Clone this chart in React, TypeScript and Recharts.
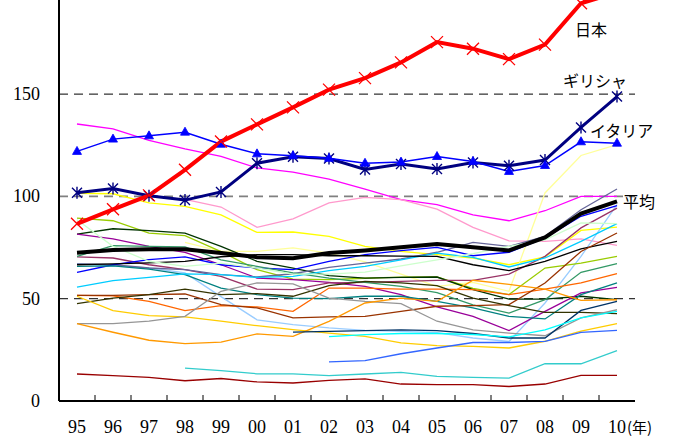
import React from 'react';
import { LineChart, Line, XAxis, YAxis, ReferenceLine, LabelList } from 'recharts';

const years = ['95', '96', '97', '98', '99', '00', '01', '02', '03', '04', '05', '06', '07', '08', '09', '10'];
const yTicks = [0, 50, 100, 150];

const japan = [86.6, 93.7, 100.5, 113, 126.8, 135.2, 143.5, 152.2, 157.8, 165.5, 175.4, 172.2, 167.1, 174.2, 194.4, 199.7];
const greece = [101.8, 103.9, 100.3, 98.2, 102.2, 116.2, 119.4, 118.5, 113.2, 115.8, 113.4, 116.6, 115, 117.8, 133.7, 148.8];
const italy = [122, 128, 129.6, 131.4, 125.5, 120.8, 119.9, 118.6, 116.2, 116.8, 119.5, 117.1, 112.2, 115.1, 126.7, 126];
const average = [72.5, 73.8, 74.2, 74.2, 72.3, 70.3, 69.8, 72.3, 73.6, 75.1, 76.7, 75.1, 73.6, 80, 91.6, 97.6];

// other countries, thin lines
const magenta = [135.4, 133, 127.4, 123.2, 119.6, 113.9, 111.9, 108.5, 103.6, 98.4, 96, 91, 88.1, 93, 100, 100];
const pink = [null, null, null, 98.5, 94.8, 84.9, 89, 96.8, 99.5, 98.4, 93.8, 84.9, 78.3, 78, 79.2, 76.1];
const yellow = [101.5, 101.3, 96.8, 95.1, 91, 82.4, 82.6, 80.5, 75.6, 73.1, 71.5, 69.9, 66.6, 70.4, 83.4, 85];
const paleYellow = [null, null, null, 77.5, 73.1, 73.1, 74.8, 72.3, 68, 62, 56, 58, 53.6, 101.7, 120, 125.3];
const lightBlue = [67, 66, 65, 62.6, 51, 39.7, 37.3, 35.7, 34.5, 34, 33.4, 30.8, 29.1, 47.9, 70.7, 96];
const yellowGreen = [89.4, 88.1, 82.1, 80.8, 73, 64.2, 59.6, 59.3, 60, 60.5, 60.6, 55, 52, 65, 67.4, 70.7];
const darkGreen = [81.6, 84.2, 83.3, 82.1, 75.6, 68.3, 65, 61.3, 60.1, 60.4, 60.6, 54.4, 49.8, 49.8, 51.2, 49.5];
const purple = [81.6, 79.2, 75.6, 72.7, 66.6, 60.1, 59.3, 58, 56, 52, 46, 41.4, 34.4, 43.8, 52.8, 55.5];
const mauve = [70.4, 69.9, 66.6, 64.2, 60.9, 54.7, 54.4, 57.7, 58, 58.5, 59, 59, 62, 70.7, 84.6, 94.3];
const grayPurple = [67, 66.6, 65, 64.2, 61.8, 60.6, 62.2, 65.3, 67.4, 69.4, 72.7, 77.5, 75.6, 80.5, 93.5, 103.6];
const blue = [62.9, 66.6, 69.1, 70.4, 66.6, 65, 64.2, 68.3, 71.5, 73.5, 75.1, 71, 72.7, 79.7, 90.3, 95.5];
const darkTeal = [65.8, 66, 64.5, 61.8, 55.2, 52, 50.3, 50, 51.2, 51.2, 48.7, 45.5, 41.4, 40.1, 52, 57.7];
const seaGreen = [70.7, 75.9, 75.6, 75.3, 69, 65.8, 62.6, 60.1, 58, 56, 53, 47, 43, 49.5, 62.9, 67.1];
const skyBlue = [55.7, 58.8, 60.4, 62.1, 61.8, 60.4, 60.9, 63.7, 65.8, 69, 72.3, 70.2, 65.5, 69.9, 78, 86.7];
const blackThin = [66.6, 67, 67.5, 68.2, 70.5, 71.5, 71.5, 71, 71, 70.8, 70.7, 66.6, 63.7, 68.3, 74.3, 78];
const paleGreen = [88.6, 75.6, 68.3, 65.8, 67.4, 65, 62, 62, 63, 66, 69, 72, 75.6, 78.8, 87, 86.7];
const orangeRed = [51.6, 51.4, 48.7, 44.2, 46.6, 46, 43.8, 55.2, 55.2, 54.7, 54.7, 54.4, 52, 54.7, 57.7, 62.2];
const brown = [51.6, 51.6, 52, 52.3, 47.1, 45.5, 40.6, 41.1, 41.4, 43.8, 46.3, 46.6, 47.1, 57.7, 73.1, 82.1];
const darkOlive = [47.6, 50.3, 52, 54.7, 52, 52.5, 51.2, 56.4, 58.5, 57.7, 56.4, 50.3, 46.6, 43.3, 43.3, 42.7];
const gold = [51.2, 44.2, 41.7, 41.1, 39, 36.8, 34.9, 33.2, 31.6, 28.4, 27.1, 26.7, 25.9, 29.2, 34.1, 37.8];
const gray = [37.8, 37.8, 39, 41.4, 53.6, 57.7, 57.2, 50.3, 48.7, 47.6, 39, 34.8, 33.2, 31.9, 40.6, 44.6];
const orange = [37.8, 33.6, 29.7, 28, 28.8, 32.8, 31.6, 38.9, 47.9, 50.3, 48.7, 59, 57, 54.7, 49.2, 49.5];
const navy = [null, null, null, null, null, null, 33.7, 34, 34.4, 34.8, 34.4, 33, 30.8, 30.8, 44.3, 48.7];
const cyan = [null, null, null, null, null, null, null, 31.5, 32.4, 33, 33, 32.5, 31.3, 34.8, 40.6, 43.8];
const royalBlue = [null, null, null, null, null, null, null, 19.1, 19.7, 23.1, 25.9, 28.6, 28.6, 29.1, 33.5, 34.5];
const turquoise = [null, null, null, 16.1, 14.8, 13.3, 13.3, 12.4, 13.2, 14, 12, 11.5, 11.2, 18.2, 18.2, 24.6];
const darkRed = [13.2, 12.4, 11.5, 9.9, 11, 9.3, 8.8, 10.1, 10.8, 8.3, 8, 8, 7.1, 8.3, 12.5, 12.5];

const others = [
  { key: 'magenta', values: magenta, color: '#ff00ff' },
  { key: 'pink', values: pink, color: '#ff99cc' },
  { key: 'yellow', values: yellow, color: '#ffff00' },
  { key: 'paleYellow', values: paleYellow, color: '#ffff99' },
  { key: 'lightBlue', values: lightBlue, color: '#99ccff' },
  { key: 'yellowGreen', values: yellowGreen, color: '#99cc00' },
  { key: 'darkGreen', values: darkGreen, color: '#003300' },
  { key: 'purple', values: purple, color: '#990099' },
  { key: 'mauve', values: mauve, color: '#993366' },
  { key: 'grayPurple', values: grayPurple, color: '#666699' },
  { key: 'blue', values: blue, color: '#0000ff' },
  { key: 'darkTeal', values: darkTeal, color: '#008080' },
  { key: 'seaGreen', values: seaGreen, color: '#339966' },
  { key: 'skyBlue', values: skyBlue, color: '#00ccff' },
  { key: 'blackThin', values: blackThin, color: '#000000' },
  { key: 'paleGreen', values: paleGreen, color: '#ccffcc' },
  { key: 'orangeRed', values: orangeRed, color: '#ff6600' },
  { key: 'brown', values: brown, color: '#993300' },
  { key: 'darkOlive', values: darkOlive, color: '#333300' },
  { key: 'gold', values: gold, color: '#ffcc00' },
  { key: 'gray', values: gray, color: '#969696' },
  { key: 'orange', values: orange, color: '#ff9900' },
  { key: 'navy', values: navy, color: '#003366' },
  { key: 'cyan', values: cyan, color: '#00ffff' },
  { key: 'royalBlue', values: royalBlue, color: '#3366ff' },
  { key: 'turquoise', values: turquoise, color: '#33cccc' },
  { key: 'darkRed', values: darkRed, color: '#990000' },
];

const data = years.map((year, i) => {
  const row: Record<string, any> = { year, japan: japan[i], greece: greece[i], italy: italy[i], average: average[i] };
  others.forEach(s => { row[s.key] = s.values[i]; });
  return row;
});

const W = 674;
const H = 436;
const LEFT = 59;
const RIGHT = 39;
const BAND = (W - LEFT - RIGHT) / years.length;
const serif = "'Liberation Serif', 'Times New Roman', Times, serif";
const jp = "'Noto Sans CJK JP', sans-serif";

const XTick = (props: any) => {
  const { x, y, payload, index } = props;
  return (
    <g>
      {index > 0 && <line x1={x - BAND / 2} y1={y - 6} x2={x - BAND / 2} y2={y} stroke="#000" strokeWidth={1} />}
      <text x={x} y={y + 32} textAnchor="middle" style={{ fontFamily: serif, fontSize: 18 }} fill="#000">{payload.value}</text>
      {payload.value === '10' && (
        <text x={x + 10} y={y + 32} textAnchor="start" style={{ fontFamily: jp, fontSize: 15 }} fill="#000">(年)</text>
      )}
    </g>
  );
};

const YTick = (props: any) => {
  const { x, y, payload } = props;
  return (
    <text x={x} y={y} dy={6} textAnchor="end" style={{ fontFamily: serif, fontSize: 18 }} fill="#000">{payload.value}</text>
  );
};

const Cross = (props: any) => {
  const { cx, cy } = props;
  if (cx == null || cy == null) return null;
  return <path d={`M${cx - 6},${cy - 6}L${cx + 6},${cy + 6}M${cx - 6},${cy + 6}L${cx + 6},${cy - 6}`} stroke="#ff0000" strokeWidth={1.3} fill="none" />;
};

const Star = (props: any) => {
  const { cx, cy } = props;
  if (cx == null || cy == null) return null;
  return <path d={`M${cx - 5},${cy - 5}L${cx + 5},${cy + 5}M${cx - 5},${cy + 5}L${cx + 5},${cy - 5}M${cx},${cy - 6}L${cx},${cy + 6}`} stroke="#000080" strokeWidth={1.4} fill="none" />;
};

const Tri = (props: any) => {
  const { cx, cy } = props;
  if (cx == null || cy == null) return null;
  return <path d={`M${cx},${cy - 5}L${cx + 4.5},${cy + 3}L${cx - 4.5},${cy + 3}Z`} fill="#0000ff" stroke="#0000ff" strokeWidth={0.8} />;
};

const tag = (text: string, at: number, dx: number, dy: number, anchor: string = 'start') => (p: any) =>
  p.index === at ? (
    <text x={p.x + dx} y={p.y + dy} textAnchor={anchor} style={{ fontFamily: jp, fontSize: 16 }} fill="#000">{text}</text>
  ) : null;

export default function App() {
  return (
    <div style={{ position: 'absolute', left: 0, top: 0, background: '#fff' }}>
      <LineChart width={W} height={H} data={data} margin={{ top: 0, right: RIGHT, bottom: 0, left: 0 }}>
        <XAxis dataKey="year" interval={0} padding={{ left: BAND / 2, right: BAND / 2 }} tick={<XTick />}
          tickLine={false} tickSize={0} tickMargin={0} height={35} axisLine={{ stroke: '#000', strokeWidth: 2 }} />
        <YAxis domain={[0, 196]} allowDataOverflow ticks={yTicks} width={LEFT} tickLine={false} tickSize={0} tickMargin={19}
          axisLine={{ stroke: '#000', strokeWidth: 2 }} tick={<YTick />} />
        <YAxis yAxisId="r" orientation="right" domain={[0, 196]} width={0} tick={false} tickLine={false}
          axisLine={{ stroke: '#000', strokeWidth: 1 }} />
        <ReferenceLine y={50} stroke="#000" strokeDasharray="9 6" />
        <ReferenceLine y={100} stroke="#808080" strokeWidth={1.6} strokeDasharray="9 6" />
        <ReferenceLine y={150} stroke="#000" strokeDasharray="9 6" />
        {others.map(s => (
          <Line key={s.key} dataKey={s.key} stroke={s.color} strokeWidth={1.3} dot={false} activeDot={false} isAnimationActive={false} />
        ))}
        <Line dataKey="average" stroke="#000" strokeWidth={4} dot={false} activeDot={false} isAnimationActive={false}>
          <LabelList dataKey="average" content={tag('平均', 15, 6, 7)} />
        </Line>
        <Line dataKey="greece" stroke="#000080" strokeWidth={3} dot={<Star />} activeDot={false} isAnimationActive={false}>
          <LabelList dataKey="greece" content={tag('ギリシャ', 15, 10, -10, 'end')} />
        </Line>
        <Line dataKey="italy" stroke="#0000ff" strokeWidth={1.5} dot={<Tri />} activeDot={false} isAnimationActive={false}>
          <LabelList dataKey="italy" content={tag('イタリア', 14, 9, -5)} />
        </Line>
        <Line dataKey="japan" stroke="#ff0000" strokeWidth={4} dot={<Cross />} activeDot={false} isAnimationActive={false}>
          <LabelList dataKey="japan" content={tag('日本', 13, 30, -9)} />
        </Line>
      </LineChart>
    </div>
  );
}
